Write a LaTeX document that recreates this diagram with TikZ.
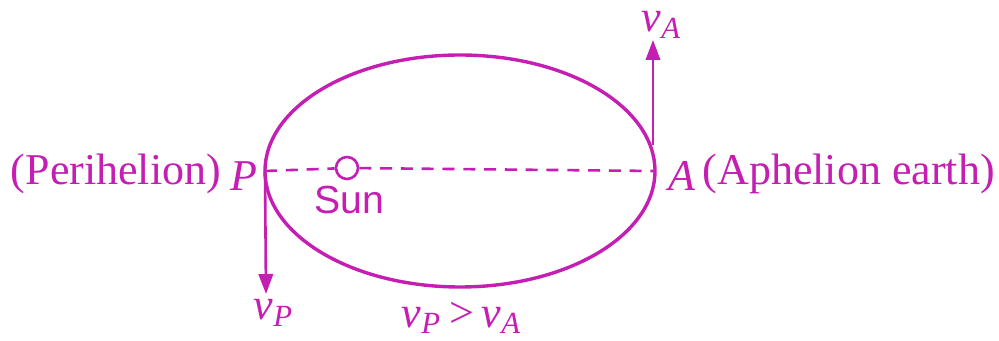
\documentclass[tikz,border=0pt]{standalone}
\usepackage{fontspec}
\setmainfont{Liberation Serif}
\setsansfont{Liberation Sans}
\usetikzlibrary{arrows.meta}
\definecolor{mag}{RGB}{196,30,178}
\tikzset{
  lbl/.style={text=mag, font=\fontsize{11}{13}\selectfont, inner sep=0pt},
  orbit/.style={draw=mag, line width=0.85pt},
  vel/.style={draw=mag, line width=0.65pt, -{Triangle[length=5pt,width=3.6pt]}},
  axisline/.style={draw=mag, line width=0.65pt, dashed, dash pattern=on 3pt off 2.2pt}
}
\begin{document}
\begin{tikzpicture}[x=0.25pt,y=-0.25pt]
\useasboundingbox (0,0) rectangle (999,341);
\draw[orbit] (460,171) ellipse [x radius=195, y radius=116];
\coordinate (P) at (265,171);
\coordinate (A) at (655,171);
\coordinate (Astart) at (653,145);
\coordinate (vAtip) at (653,40);
\coordinate (vPtip) at (266,294);
\node[circle, draw=mag, line width=0.65pt, fill=white, minimum size=5.5pt, inner sep=0pt] (sun) at (347,168) {};
\draw[axisline] (P) -- (sun);
\draw[axisline] (sun) -- (A);
\draw[vel] (Astart) -- (vAtip);
\draw[vel] (P) -- (vPtip);
\node[lbl, font=\sffamily\fontsize{9.8}{11}\selectfont] (sunl) at (349,200) {Sun};
\node[lbl, anchor=east] (pl) at (258,176) {\itshape P};
\node[lbl] (peri) at (116,174) {(Perihelion)};
\node[lbl, anchor=west] (al) at (668,176) {\itshape A};
\node[lbl, anchor=west] (aph) at (702,174) {(Aphelion earth)};
\node[lbl] (vAl) at (662,25) {\itshape v\textsubscript{A}};
\node[lbl] (vPl) at (274,313) {\itshape v\textsubscript{P}};
\node[lbl] (cmp) at (462,318) {\itshape v\textsubscript{P}\upshape\,>\,\itshape v\textsubscript{A}};
\end{tikzpicture}
\end{document}
